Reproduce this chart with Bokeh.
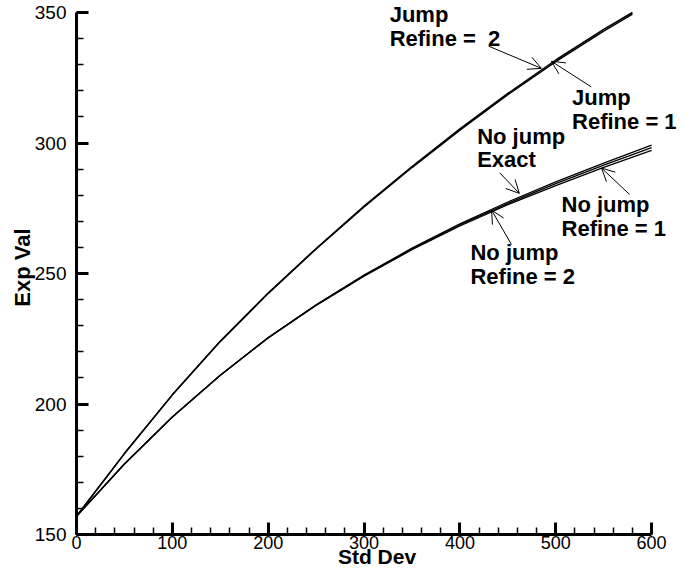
from bokeh.plotting import figure
from bokeh.models import Range1d, SingleIntervalTicker, Label, Arrow, OpenHead
from bokeh.embed import file_html
from bokeh.resources import INLINE

# ---- data ----
jump_x = [0, 50, 100, 150, 200, 250, 300, 350, 400, 450, 500, 550, 580]
jump_refine2 = [157, 181, 203.5, 224, 242.5, 259.6, 275.8, 291, 305.4, 319, 331.8, 343.5, 350]
jump_refine1 = [157, 181, 203.5, 224, 242.4, 259.4, 275.5, 290.6, 304.9, 318.5, 331.2, 342.9, 349.4]

nojump_x = [0, 50, 100, 150, 200, 250, 300, 350, 400, 450, 500, 550, 600]
nojump_exact = [157, 177, 195, 211, 225.5, 238, 249.4, 259.7, 269, 277.4, 285.1, 292.3, 299.2]
nojump_refine2 = [157, 177, 195, 211, 225.4, 237.9, 249.2, 259.4, 268.6, 276.9, 284.4, 291.5, 298.2]
nojump_refine1 = [157, 177, 195, 211, 225.3, 237.8, 249.0, 259.1, 268.2, 276.4, 283.7, 290.7, 297.2]

label_lines = ["Jump", "Refine =\u00a0 2", "Jump", "Refine = 1", "No jump", "Exact",
               "No jump", "Refine = 1", "No jump", "Refine = 2"]
label_x = [326.7, 326.7, 517, 517, 418, 418, 506, 506, 411, 411]
label_y = [349.2, 340.2, 317.4, 308.2, 302.5, 293.5, 276.4, 267.2, 258, 248.8]

arrow_x_start = [430, 537, 441.5, 577, 453.8]
arrow_y_start = [337.1, 321.5, 288.6, 280.3, 261.1]
arrow_x_end = [485, 495.5, 462, 547.7, 433]
arrow_y_end = [328.6, 331.3, 280.7, 290.4, 274.3]

x_bounds = (0, 600)
y_bounds = (150, 350)
x_ticks_interval = 100
y_ticks_interval = 50

p = figure(width=677, height=570, output_backend="svg", toolbar_location=None,
           x_range=Range1d(0, 627), y_range=Range1d(150, 354.6),
           min_border_left=76, min_border_top=0, min_border_right=0, min_border_bottom=35)
p.outline_line_color = None
p.xgrid.visible = False
p.ygrid.visible = False
p.background_fill_color = "white"
p.border_fill_color = "white"

for series in (jump_refine2, jump_refine1):
    p.line(jump_x, series, line_color="black", line_width=1.5)
for series in (nojump_exact, nojump_refine2, nojump_refine1):
    p.line(nojump_x, series, line_color="black", line_width=1.3)

p.xaxis.ticker = SingleIntervalTicker(interval=x_ticks_interval, num_minor_ticks=5)
p.yaxis.ticker = SingleIntervalTicker(interval=y_ticks_interval, num_minor_ticks=5)
p.xaxis.bounds = x_bounds
p.yaxis.bounds = y_bounds

for ax in (p.xaxis[0], p.yaxis[0]):
    ax.axis_line_width = 3
    ax.axis_line_color = "black"
    ax.major_tick_in = 12
    ax.major_tick_out = 0
    ax.minor_tick_in = 7
    ax.minor_tick_out = 0
    ax.major_tick_line_width = 3
    ax.minor_tick_line_width = 1.5
    ax.major_label_text_font = "Liberation Sans"
    ax.major_label_text_color = "black"
    ax.axis_label_text_font = "Liberation Sans"
    ax.axis_label_text_font_style = "bold"
    ax.axis_label_text_color = "black"

p.xaxis.major_label_text_font_size = "18px"
p.yaxis.major_label_text_font_size = "19px"
p.xaxis.axis_label_text_font_size = "21px"
p.yaxis.axis_label_text_font_size = "22px"
p.xaxis.axis_label = "Std Dev"
p.yaxis.axis_label = "Exp Val"
p.xaxis.major_label_standoff = 1
p.xaxis.axis_label_standoff = -7
p.yaxis.major_label_standoff = 10
p.yaxis.axis_label_standoff = -3

for t, x, y in zip(label_lines, label_x, label_y):
    p.add_layout(Label(x=x, y=y, text=t, text_font="Liberation Sans", text_font_style="bold",
                       text_font_size="22px", text_color="black",
                       text_align="left", text_baseline="middle"))

for xs, ys, xe, ye in zip(arrow_x_start, arrow_y_start, arrow_x_end, arrow_y_end):
    p.add_layout(Arrow(x_start=xs, y_start=ys, x_end=xe, y_end=ye, line_width=1,
                       line_color="black",
                       end=OpenHead(size=13, line_width=1, line_color="black")))

open("out.html", "w").write(file_html(p, INLINE))
